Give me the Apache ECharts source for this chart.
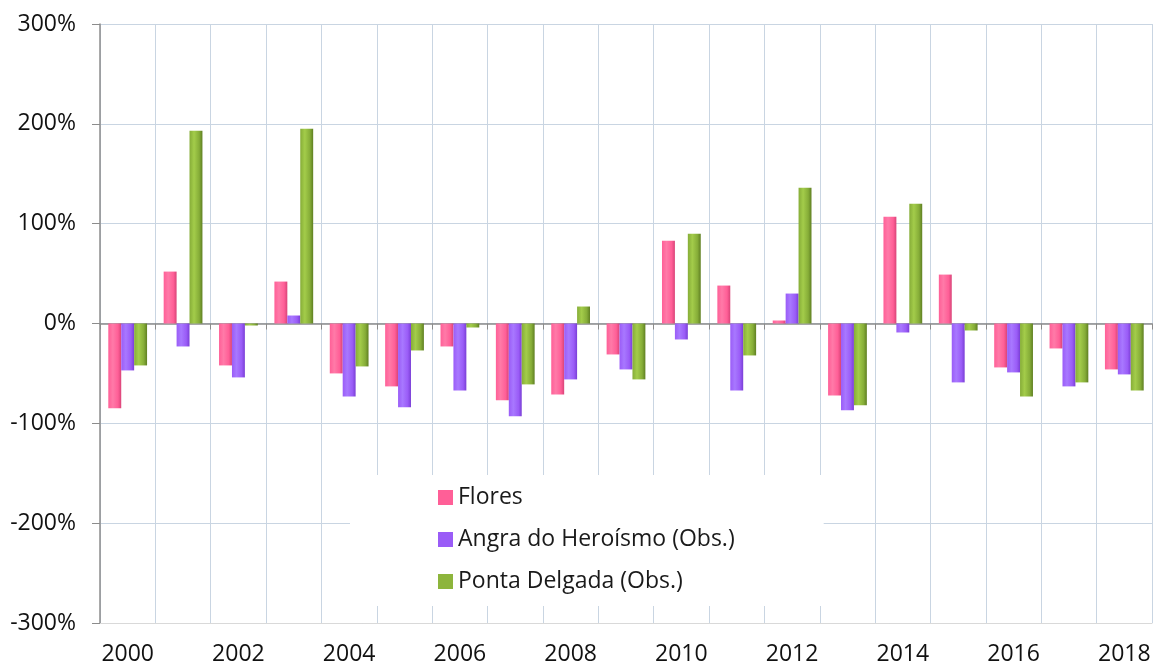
<!DOCTYPE html>
<html>
<head>
<meta charset="utf-8">
<script src="https://cdn.jsdelivr.net/npm/echarts@6/dist/echarts.min.js"></script>
<style>
  html, body { margin: 0; padding: 0; background: #fff; }
  #chart { width: 1154px; height: 668px; }
</style>
</head>
<body>
<div id="chart"></div>
<script>
// anos
const years = ['2000', '2001', '2002', '2003', '2004', '2005', '2006', '2007', '2008', '2009',
  '2010', '2011', '2012', '2013', '2014', '2015', '2016', '2017', '2018']

// variação em %
const flores = [-85, 52, -42, 42, -50, -63, -23, -77, -71, -31, 83, 38, 3, -72, 107, 49, -44, -25, -46]
const angra = [-47, -23, -54, 8, -73, -84, -67, -93, -56, -46, -16, -67, 30, -87, -9, -59, -49, -63, -51]
const ponta = [-42, 193, -2, 195, -43, -27, -4, -61, 17, -56, 90, -32, 136, -82, 120, -7, -73, -59, -67]

const seriesNames = ['Flores', 'Angra do Heroísmo (Obs.)', 'Ponta Delgada (Obs.)']

const grad = (light, mid, dark) => new echarts.graphic.LinearGradient(0, 0, 1, 0, [
  { offset: 0, color: mid },
  { offset: 0.35, color: light },
  { offset: 0.75, color: mid },
  { offset: 1, color: dark }
])

const chart = echarts.init(document.getElementById('chart'))

const mkBar = (name, data, fill) => ({
  name: name,
  type: 'bar',
  data: data,
  barGap: '0%',
  barCategoryGap: '30%',
  itemStyle: { color: fill },
  emphasis: { disabled: true }
})

const font = 'Open Sans, Noto Sans, sans-serif'

chart.setOption({
  animation: false,
  grid: { left: 100, right: 2, top: 24, bottom: 45 },
  legend: {
    orient: 'vertical',
    left: 350,
    top: 475,
    padding: [11, 89, 13, 88],
    backgroundColor: '#fff',
    itemWidth: 15,
    itemHeight: 15,
    itemGap: 19,
    icon: 'rect',
    textStyle: { fontFamily: font, fontSize: 23, color: '#1a1a1a' },
    data: [
      { name: seriesNames[0], itemStyle: { color: '#ff5f97' } },
      { name: seriesNames[1], itemStyle: { color: '#9a5cf7' } },
      { name: seriesNames[2], itemStyle: { color: '#8db53c' } }
    ]
  },
  xAxis: [
    {
      type: 'category',
      data: years,
      axisLine: { onZero: true, lineStyle: { color: '#8c8c8c', width: 1.5 } },
      axisTick: { show: true, interval: 0, length: 6, lineStyle: { color: '#8c8c8c' } },
      axisLabel: { show: false },
      splitLine: { show: false }
    },
    {
      type: 'category',
      data: years,
      position: 'bottom',
      axisLine: { show: true, onZero: false, lineStyle: { color: '#d9d9d9' } },
      axisTick: { show: false },
      axisLabel: {
        interval: 1,
        margin: 20,
        fontFamily: font,
        fontSize: 23,
        color: '#111'
      },
      splitLine: { show: true, interval: 0, lineStyle: { color: '#c9d5e2', width: 1 } }
    }
  ],
  yAxis: {
    type: 'value',
    min: -300,
    max: 300,
    interval: 100,
    axisLine: { show: true, lineStyle: { color: '#8c8c8c', width: 1.5 } },
    axisTick: { show: true, length: 8, lineStyle: { color: '#8c8c8c' } },
    axisLabel: {
      formatter: v => v + '%',
      margin: 24,
      fontFamily: font,
      fontSize: 23,
      color: '#111'
    },
    splitLine: { show: true, lineStyle: { color: '#c9d5e2', width: 1 } }
  },
  series: [
    mkBar(seriesNames[0], flores, grad('#ff7aa8', '#ff5f97', '#d94478')),
    mkBar(seriesNames[1], angra, grad('#a878ff', '#9a5cf7', '#7a3fd6')),
    mkBar(seriesNames[2], ponta, grad('#a3cc4a', '#86ad38', '#5f7f22'))
  ]
})
</script>
</body>
</html>
